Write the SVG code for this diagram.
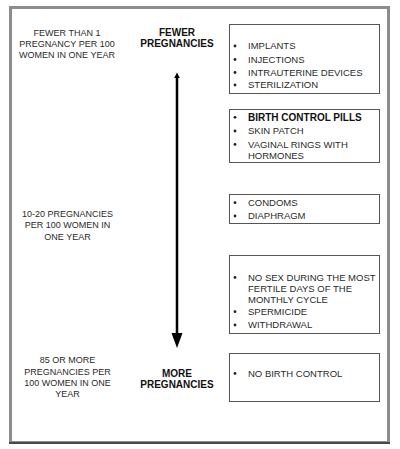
<svg xmlns="http://www.w3.org/2000/svg" width="400" height="449" viewBox="0 0 400 449">
<defs>
<style>
.lt{font-family:"Liberation Sans",Arial,sans-serif;font-size:9px;fill:#2a2a2a;text-anchor:middle}
.hd{font-family:"Liberation Sans",Arial,sans-serif;font-size:10px;font-weight:bold;fill:#111;text-anchor:middle}
.bt{font-family:"Liberation Sans",Arial,sans-serif;font-size:9.5px;fill:#2a2a2a}
.bb{font-family:"Liberation Sans",Arial,sans-serif;font-size:10px;font-weight:bold;fill:#111}
.box{fill:#fff;stroke:#555;stroke-width:1}
.dot{fill:#222}
</style>
</defs>
<rect x="0" y="0" width="400" height="449" fill="#fff"/>
<g id="frame">
<rect x="10.5" y="7.5" width="378" height="435" fill="none" stroke="#8c8c8c" stroke-width="3"/>
<line x1="9" y1="443" x2="390" y2="443" stroke="#333" stroke-width="1.5"/>
</g>
<g id="connectors">
<line x1="177" y1="77" x2="177" y2="334" stroke="#000" stroke-width="2.5"/>
<path d="M177,72.5 L179.8,78 L174.2,78 Z" fill="#000"/>
<path d="M171.5,333 L182.5,333 L177,348 Z" fill="#000"/>
</g>
<g id="label-fewer-than-1">
<text class="lt" x="67" y="35.7">FEWER THAN 1</text>
<text class="lt" x="67" y="46.7">PREGNANCY PER 100</text>
<text class="lt" x="67" y="57.7">WOMEN IN ONE YEAR</text>
</g>
<g id="label-10-20">
<text class="lt" x="67.5" y="217.3">10-20 PREGNANCIES</text>
<text class="lt" x="67.5" y="228.3">PER 100 WOMEN IN</text>
<text class="lt" x="67.5" y="239.5">ONE YEAR</text>
</g>
<g id="label-85">
<text class="lt" x="67.5" y="363.3">85 OR MORE</text>
<text class="lt" x="67.5" y="374.5">PREGNANCIES PER</text>
<text class="lt" x="67.5" y="385.7">100 WOMEN IN ONE</text>
<text class="lt" x="67.5" y="396.7">YEAR</text>
</g>
<g id="head-fewer">
<text class="hd" x="177" y="35.7">FEWER</text>
<text class="hd" x="177" y="46.7">PREGNANCIES</text>
</g>
<g id="head-more">
<text class="hd" x="177" y="377">MORE</text>
<text class="hd" x="177" y="388.3">PREGNANCIES</text>
</g>
<g id="box1">
<rect class="box" x="229.5" y="24.5" width="150" height="69"/>
<circle class="dot" cx="235" cy="46" r="1.4"/><text class="bt" x="248" y="49.3">IMPLANTS</text>
<circle class="dot" cx="235" cy="59.5" r="1.4"/><text class="bt" x="248" y="62.8">INJECTIONS</text>
<circle class="dot" cx="235" cy="72.5" r="1.4"/><text class="bt" x="248" y="75.8">INTRAUTERINE DEVICES</text>
<circle class="dot" cx="235" cy="85" r="1.4"/><text class="bt" x="248" y="88.3">STERILIZATION</text>
</g>
<g id="box2">
<rect class="box" x="229.5" y="109.5" width="150" height="53"/>
<circle class="dot" cx="235" cy="117.3" r="1.4"/><text class="bb" x="248" y="120.7">BIRTH CONTROL PILLS</text>
<circle class="dot" cx="235" cy="131" r="1.4"/><text class="bt" x="248" y="134.3">SKIN PATCH</text>
<circle class="dot" cx="235" cy="144.4" r="1.4"/><text class="bt" x="248" y="147.7">VAGINAL RINGS WITH</text>
<text class="bt" x="248" y="159">HORMONES</text>
</g>
<g id="box3">
<rect class="box" x="229.5" y="194.5" width="150" height="29"/>
<circle class="dot" cx="235" cy="202.7" r="1.4"/><text class="bt" x="248" y="206">CONDOMS</text>
<circle class="dot" cx="235" cy="216" r="1.4"/><text class="bt" x="248" y="219.3">DIAPHRAGM</text>
</g>
<g id="box4">
<rect class="box" x="229.5" y="255.5" width="150" height="78"/>
<circle class="dot" cx="235" cy="277.4" r="1.4"/><text class="bt" x="248" y="280.7">NO SEX DURING THE MOST</text>
<text class="bt" x="248" y="291.7">FERTILE DAYS OF THE</text>
<text class="bt" x="248" y="302.5">MONTHLY CYCLE</text>
<circle class="dot" cx="235" cy="311.7" r="1.4"/><text class="bt" x="248" y="315">SPERMICIDE</text>
<circle class="dot" cx="235" cy="325" r="1.4"/><text class="bt" x="248" y="328.3">WITHDRAWAL</text>
</g>
<g id="box5">
<rect class="box" x="229.5" y="353.5" width="150" height="48"/>
<circle class="dot" cx="235" cy="373.4" r="1.4"/><text class="bt" x="248" y="376.7">NO BIRTH CONTROL</text>
</g>
</svg>
